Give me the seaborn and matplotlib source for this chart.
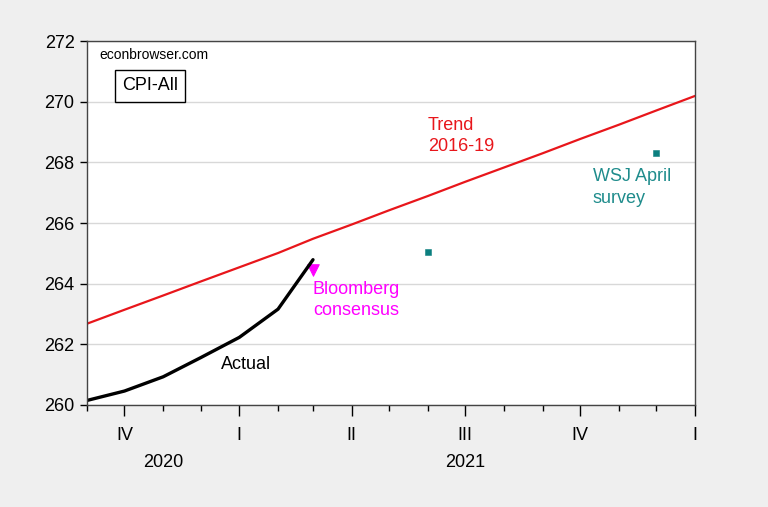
import matplotlib
matplotlib.use("Agg")
import matplotlib.pyplot as plt
import matplotlib.dates as mdates
import numpy as np
import pandas as pd
import seaborn as sns

# data (CPI-All, seasonally adjusted)
months = pd.date_range("2020-09-01", "2022-01-01", freq="MS")
actual_months = pd.date_range("2020-09-01", "2021-03-01", freq="MS")
actual = [260.15, 260.46, 260.93, 261.56, 262.23, 263.16, 264.79]
trend = [262.68, 263.14, 263.61, 264.07, 264.54, 265.01, 265.48, 265.95, 266.42,
         266.89, 267.36, 267.83, 268.30, 268.77, 269.24, 269.71, 270.19]
bloomberg_month = pd.to_datetime(["2021-03-01"])
bloomberg = [264.45]
wsj_months = pd.to_datetime(["2021-06-01", "2021-12-01"])
wsj = [265.03, 268.31]

quarter_ticks = pd.to_datetime(["2020-10-01", "2021-01-01", "2021-04-01",
                                "2021-07-01", "2021-10-01", "2022-01-01"])
quarter_labels = ["IV", "I", "II", "III", "IV", "I"]
year_pos = pd.to_datetime(["2020-11-01", "2021-07-01"])
year_labels = ["2020", "2021"]

df_actual = pd.DataFrame({"date": actual_months, "cpi": actual})
df_trend = pd.DataFrame({"date": months, "cpi": trend})
df_bb = pd.DataFrame({"date": bloomberg_month, "cpi": bloomberg})
df_wsj = pd.DataFrame({"date": wsj_months, "cpi": wsj})

# plot
sns.set_style("ticks")
plt.rcParams["font.family"] = ["Liberation Sans", "DejaVu Sans"]
plt.rcParams["text.color"] = "black"
plt.rcParams["xtick.color"] = "black"
plt.rcParams["ytick.color"] = "black"

fig = plt.figure(figsize=(7.68, 5.07), dpi=100, facecolor="#efefef")
ax = fig.add_axes([0.1133, 0.2012, 0.7917, 0.7179])
ax.set_facecolor("white")

sns.lineplot(x="date", y="cpi", data=df_trend, color="#e8161b", linewidth=1.6, ax=ax)
sns.lineplot(x="date", y="cpi", data=df_actual, color="black", linewidth=2.4, ax=ax)
sns.scatterplot(x="date", y="cpi", data=df_bb, color="#ff00ff", marker="v", s=70,
                edgecolor="#ff00ff", ax=ax)
sns.scatterplot(x="date", y="cpi", data=df_wsj, color="#0b7f7f", marker="s", s=22,
                edgecolor="#0b7f7f", ax=ax)

ax.set_xlim(months[0], months[-1])
ax.set_ylim(260, 272)
ax.set_yticks([260, 262, 264, 266, 268, 270, 272])
ax.set_xticks(quarter_ticks)
ax.set_xticklabels(quarter_labels)
ax.xaxis.set_minor_locator(mdates.MonthLocator())
ax.tick_params(axis="x", which="major", length=8, width=1, pad=8, labelsize=13)
ax.tick_params(axis="x", which="minor", length=4, width=1)
ax.tick_params(axis="y", length=5, width=1, labelsize=13, pad=4)
ax.set_xlabel("")
ax.set_ylabel("")
ax.grid(axis="y", color="#d8d8d8", linewidth=1)
for s in ax.spines.values():
    s.set_color("#444444")
    s.set_linewidth(1)

trans = matplotlib.transforms.blended_transform_factory(ax.transData, ax.transAxes)
for d, lab in zip(year_pos, year_labels):
    ax.text(d, -0.157, lab, transform=trans, ha="center", va="center", fontsize=13)

ax.text(0.021, 0.982, "econbrowser.com", transform=ax.transAxes, ha="left", va="top",
        fontsize=10)
ax.text(0.104, 0.877, "CPI-All", transform=ax.transAxes, ha="center", va="center",
        fontsize=13, bbox=dict(boxstyle="square,pad=0.4", facecolor="white",
                               edgecolor="black", linewidth=1))

ax.text(pd.Timestamp("2021-06-01"), 269.5, "Trend\n2016-19", color="#e8161b",
        fontsize=13, ha="left", va="top", linespacing=1.35)
ax.text(pd.Timestamp("2021-10-11"), 267.8, "WSJ April\nsurvey", color="#1f8c8c",
        fontsize=13, ha="left", va="top", linespacing=1.35)
ax.text(pd.Timestamp("2021-03-01"), 264.1, "Bloomberg\nconsensus", color="#ff00ff",
        fontsize=13, ha="left", va="top", linespacing=1.35)
ax.text(pd.Timestamp("2020-12-17"), 261.32, "Actual", color="black",
        fontsize=13, ha="left", va="center")

fig.savefig("out.png", dpi=100, facecolor=fig.get_facecolor())
